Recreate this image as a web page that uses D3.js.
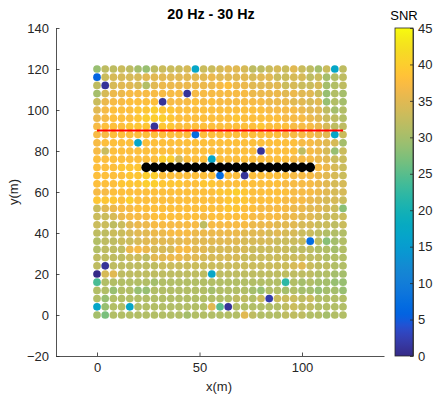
<!DOCTYPE html>
<html>
<head>
<meta charset="utf-8">
<script src="https://cdn.jsdelivr.net/npm/d3@7"></script>
<style>
  html, body { margin: 0; padding: 0; background: #fff; }
  svg { display: block; font-family: "Liberation Sans", Arial, sans-serif; }
</style>
</head>
<body>
<svg id="chart" width="433" height="401"></svg>
<script>
// ---------------- DATA ----------------
const title = "20 Hz - 30 Hz";
const xLabel = "x(m)";
const yLabel = "y(m)";
const cbLabel = "SNR";

const xTicks = [0, 50, 100];
const yTicks = [-20, 0, 20, 40, 60, 80, 100, 120, 140];
const cbTicks = [0, 5, 10, 15, 20, 25, 30, 35, 40, 45];

// grid positions (m)
const gridX = [0,4,8,12,16,20,24,28,32,36,40,44,48,52,56,60,64,68,72,76,80,84,88,92,96,100,104,108,112,116,120];
const gridY = [120,116,112,108,104,100,96,92,88,84,80,76,72,68,64,60,56,52,48,44,40,36,32,28,24,20,16,12,8,4,0];

// SNR per grid row (one row per gridY entry, one value per gridX entry)
const snrRows = [
  [29,32,32,33,32,30,29,32,33,33,33,34,17,33,33,34,35,35,34,32,32,33,34,33,35,33,32,30,33,17,32],
  [6,33,34,34,34,34,35,35,35,35,35,35,35,35,36,35,35,35,35,34,35,35,33,33,34,34,32,33,30,31,32],
  [32,1,34,35,35,34,31,35,36,36,36,36,36,36,36,37,38,36,36,35,35,35,35,33,34,33,33,34,30,31,32],
  [30,34,36,36,37,37,37,37,37,37,37,1,37,37,37,37,37,37,37,36,36,36,36,35,36,35,35,33,29,31,30],
  [33,36,37,37,38,38,38,38,1,37,37,37,38,37,38,37,37,37,37,37,37,36,36,36,35,35,34,35,29,31,30],
  [35,37,38,38,38,39,39,40,39,39,38,38,38,38,38,38,38,38,38,38,38,37,37,37,37,36,35,35,32,30,31],
  [36,37,38,38,38,39,40,40,40,39,38,38,38,38,38,38,38,39,38,38,38,38,38,37,37,37,36,35,33,32,31],
  [37,38,38,38,39,39,39,1,39,39,38,38,38,38,38,38,38,38,38,38,39,38,38,38,37,37,37,36,34,32,32],
  [37,37,38,38,38,38,38,38,38,38,38,38,7,38,38,38,38,38,38,38,38,38,38,37,37,37,37,36,35,17,33],
  [37,38,38,38,38,17,38,38,38,38,38,38,38,38,38,38,38,38,38,38,38,38,38,38,38,37,37,36,35,34,30],
  [37,33,38,38,38,38,38,38,38,38,38,38,38,38,38,38,38,38,38,38,1,38,38,38,38,32,37,36,34,29,33],
  [38,38,38,38,38,38,38,38,40,40,34,38,38,38,17,38,38,38,38,38,38,38,38,38,37,37,37,36,35,33,33],
  [38,38,38,39,39,39,38,38,38,38,38,38,38,38,38,38,38,38,38,38,38,38,38,38,38,38,38,37,36,34,33],
  [38,38,38,38,39,39,40,40,38,38,38,38,38,38,38,7,38,38,1,38,38,38,38,38,37,37,37,36,35,34,33],
  [38,38,38,39,39,39,40,40,39,39,39,38,38,39,39,38,38,38,38,38,38,38,38,37,37,37,37,36,35,34,34],
  [37,37,38,38,38,38,38,38,38,38,38,38,38,38,38,39,39,40,39,38,38,38,38,38,37,37,37,36,35,34,34],
  [39,39,39,38,40,38,38,38,38,38,38,38,38,38,38,38,39,39,39,38,38,38,38,37,37,37,36,35,34,34,33],
  [33,35,36,37,37,38,38,38,38,38,38,38,38,38,38,38,39,39,38,38,37,37,37,37,36,36,35,35,34,33,28],
  [33,33,34,36,37,37,37,38,38,38,38,38,38,37,38,38,38,38,38,37,37,37,37,36,36,35,35,34,33,33,33],
  [33,33,32,33,35,36,36,37,37,37,37,37,37,32,37,37,37,37,37,36,36,36,35,35,35,34,34,33,33,32,33],
  [32,32,33,33,34,35,35,36,36,37,37,37,36,36,36,36,36,36,35,35,35,34,35,34,34,33,33,32,31,31,31],
  [31,32,32,33,33,34,35,35,35,35,35,36,35,35,35,35,35,35,34,34,34,34,33,33,33,33,7,32,28,30,31],
  [31,32,32,32,36,37,36,34,34,34,37,37,35,35,34,34,34,34,34,33,33,33,33,33,32,32,32,31,31,30,31],
  [32,32,32,32,33,33,32,35,35,36,36,35,35,34,34,34,34,34,33,33,33,33,33,33,33,33,32,32,31,31,31],
  [32,1,32,32,32,32,32,32,33,33,33,33,33,33,33,33,33,33,33,33,33,33,33,33,34,35,33,32,32,31,31],
  [0,34,35,32,32,32,32,32,32,32,32,32,32,32,17,32,32,32,32,32,32,32,32,32,32,32,32,31,31,30,30],
  [24,31,31,31,31,31,31,30,31,31,31,31,31,31,31,31,31,31,31,31,31,31,31,22,31,30,31,30,30,29,29],
  [31,31,29,31,31,29,29,31,31,31,31,31,31,31,30,31,31,31,31,30,29,31,31,30,31,30,30,29,30,30,29],
  [31,29,31,31,31,31,31,31,31,31,31,31,31,31,31,31,31,32,32,31,33,2,33,33,33,32,33,31,31,31,31],
  [17,29,31,31,17,31,31,31,31,31,31,31,31,31,35,25,1,31,31,31,31,31,31,32,33,32,32,31,31,31,31],
  [30,27,31,31,31,31,31,31,31,31,31,30,31,31,31,31,31,31,35,32,31,31,31,32,32,32,31,31,30,31,31]
];

// black array elements
const blackX = [24,28,32,36,40,44,48,52,56,60,64,68,72,76,80,84,88,92,96,100,104];
const blackY = [72,72,72,72,72,72,72,72,72,72,72,72,72,72,72,72,72,72,72,72,72];

// red reference line
const redX = [0, 120];
const redY = [90, 90];

const cbDomain = [0, 45];

// parula colormap (64 entries)
const parula = [
[0.2081,0.1663,0.5292],[0.2116,0.1898,0.5777],[0.2123,0.2138,0.6270],[0.2081,0.2386,0.6771],
[0.1959,0.2645,0.7279],[0.1707,0.2919,0.7792],[0.1253,0.3242,0.8303],[0.0591,0.3598,0.8683],
[0.0117,0.3875,0.8820],[0.0060,0.4086,0.8828],[0.0165,0.4266,0.8786],[0.0329,0.4430,0.8720],
[0.0498,0.4586,0.8641],[0.0629,0.4737,0.8554],[0.0723,0.4887,0.8467],[0.0779,0.5040,0.8384],
[0.0793,0.5200,0.8312],[0.0749,0.5375,0.8263],[0.0641,0.5570,0.8240],[0.0488,0.5772,0.8228],
[0.0343,0.5966,0.8199],[0.0265,0.6137,0.8135],[0.0239,0.6287,0.8038],[0.0231,0.6418,0.7913],
[0.0228,0.6535,0.7768],[0.0267,0.6642,0.7607],[0.0384,0.6743,0.7436],[0.0590,0.6838,0.7254],
[0.0843,0.6928,0.7062],[0.1133,0.7015,0.6859],[0.1453,0.7098,0.6646],[0.1801,0.7177,0.6424],
[0.2178,0.7250,0.6193],[0.2586,0.7317,0.5954],[0.3022,0.7376,0.5712],[0.3482,0.7424,0.5473],
[0.3953,0.7459,0.5244],[0.4420,0.7481,0.5033],[0.4871,0.7491,0.4840],[0.5300,0.7491,0.4661],
[0.5709,0.7485,0.4494],[0.6099,0.7473,0.4337],[0.6473,0.7456,0.4188],[0.6834,0.7435,0.4044],
[0.7184,0.7411,0.3905],[0.7525,0.7384,0.3768],[0.7858,0.7356,0.3633],[0.8185,0.7327,0.3498],
[0.8507,0.7299,0.3360],[0.8824,0.7274,0.3217],[0.9139,0.7258,0.3063],[0.9450,0.7261,0.2886],
[0.9739,0.7314,0.2666],[0.9938,0.7455,0.2403],[0.9990,0.7653,0.2164],[0.9955,0.7861,0.1967],
[0.9880,0.8066,0.1794],[0.9789,0.8271,0.1633],[0.9697,0.8481,0.1475],[0.9626,0.8705,0.1309],
[0.9589,0.8949,0.1132],[0.9598,0.9218,0.0948],[0.9661,0.9514,0.0755],[0.9763,0.9831,0.0538]
];
const parulaHex = parula.map(c => d3.rgb(c[0]*255, c[1]*255, c[2]*255).formatHex());

// ---------------- CHART ----------------
const svg = d3.select("#chart");
const axisColor = "#262626";

const x = d3.scaleLinear().domain([-20, 140]).range([56, 384]);
const y = d3.scaleLinear().domain([-20, 140]).range([356, 28]);

const color = d3.scaleSequential(d3.piecewise(d3.interpolateRgb, parulaHex)).domain(cbDomain).clamp(true);

// grid points
const pts = [];
gridY.forEach((gy, i) => {
  gridX.forEach((gx, j) => {
    pts.push({x: gx, y: gy, v: snrRows[i][j]});
  });
});

svg.append("g")
  .selectAll("circle")
  .data(pts)
  .join("circle")
  .attr("cx", d => x(d.x))
  .attr("cy", d => y(d.y))
  .attr("r", 3.85)
  .attr("fill", d => color(d.v));

// black points
svg.append("g")
  .selectAll("circle")
  .data(blackX.map((bx, i) => ({x: bx, y: blackY[i]})))
  .join("circle")
  .attr("cx", d => x(d.x))
  .attr("cy", d => y(d.y))
  .attr("r", 4.8)
  .attr("fill", "#000");

// red line
svg.append("path")
  .datum(redX.map((rx, i) => [rx, redY[i]]))
  .attr("d", d3.line().x(d => x(d[0])).y(d => y(d[1])))
  .attr("stroke", "#ff0000")
  .attr("stroke-width", 2)
  .attr("fill", "none");

// axes
const xAxis = svg.append("g")
  .attr("transform", `translate(0,${y(-20)})`)
  .call(d3.axisBottom(x).tickValues(xTicks).tickSizeInner(-3.5).tickSizeOuter(0).tickPadding(7));
const yAxis = svg.append("g")
  .attr("transform", `translate(${x(-20)},0)`)
  .call(d3.axisLeft(y).tickValues(yTicks).tickSizeInner(-3.5).tickSizeOuter(0).tickPadding(7));

[xAxis, yAxis].forEach(g => {
  g.select(".domain").attr("stroke", axisColor).attr("stroke-width", 0.8);
  g.selectAll(".tick line").attr("stroke", axisColor).attr("stroke-width", 0.8);
  g.selectAll(".tick text").attr("fill", axisColor).style("font-size", "13px")
    .style("font-family", "'Liberation Sans', Arial, sans-serif");
});

// title & labels
svg.append("text")
  .attr("x", 211).attr("y", 19)
  .attr("text-anchor", "middle")
  .style("font-size", "14.3px").style("font-weight", "bold")
  .attr("fill", "#000")
  .text(title);

svg.append("text")
  .attr("x", 219).attr("y", 391)
  .attr("text-anchor", "middle")
  .style("font-size", "13px")
  .attr("fill", axisColor)
  .text(xLabel);

svg.append("text")
  .attr("transform", "translate(18,192) rotate(-90)")
  .attr("text-anchor", "middle")
  .style("font-size", "13px")
  .attr("fill", axisColor)
  .text(yLabel);

// colorbar
const cbX0 = 395, cbW = 18;
const cbScale = d3.scaleLinear().domain(cbDomain).range([356, 28]);
const defs = svg.append("defs");
const grad = defs.append("linearGradient")
  .attr("id", "parulaGrad")
  .attr("x1", "0").attr("y1", "1").attr("x2", "0").attr("y2", "0");
parulaHex.forEach((c, i) => {
  grad.append("stop").attr("offset", i / (parulaHex.length - 1)).attr("stop-color", c);
});
svg.append("rect")
  .attr("x", cbX0).attr("y", cbScale(45))
  .attr("width", cbW).attr("height", cbScale(0) - cbScale(45))
  .attr("fill", "url(#parulaGrad)")
  .attr("stroke", axisColor).attr("stroke-width", 0.8);

const cbAxis = svg.append("g")
  .attr("transform", `translate(${cbX0 + cbW},0)`)
  .call(d3.axisRight(cbScale).tickValues(cbTicks).tickSizeInner(-3).tickSizeOuter(0).tickPadding(5));
cbAxis.select(".domain").attr("stroke", axisColor).attr("stroke-width", 0.8);
cbAxis.selectAll(".tick line").attr("stroke", axisColor).attr("stroke-width", 0.8);
cbAxis.selectAll(".tick text").attr("fill", axisColor).style("font-size", "13px")
  .style("font-family", "'Liberation Sans', Arial, sans-serif");

svg.append("text")
  .attr("x", 404).attr("y", 20)
  .attr("text-anchor", "middle")
  .style("font-size", "13px")
  .attr("fill", "#000")
  .text(cbLabel);
</script>
</body>
</html>
